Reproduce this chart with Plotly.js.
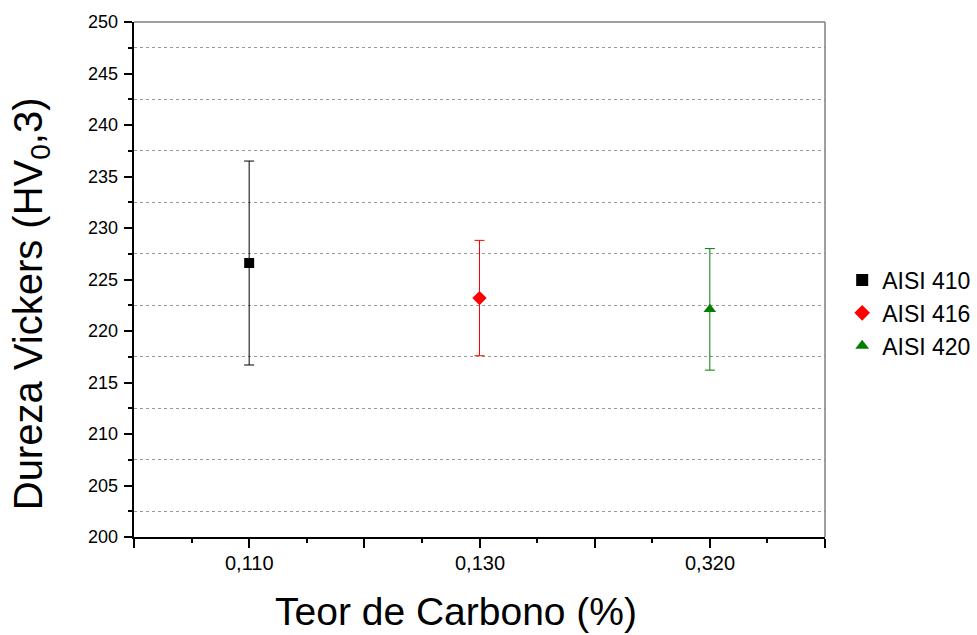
<!DOCTYPE html>
<html>
<head>
<meta charset="utf-8">
<script src="https://cdn.plot.ly/plotly-3.0.1.min.js"></script>
<style>html,body{margin:0;padding:0;background:#fff;}#chart{width:977px;height:635px;}</style>
</head>
<body>
<div id="chart"></div>
<script>
var categories = ['0,110', '0,130', '0,320'];
var seriesNames = ['AISI 410', 'AISI 416', 'AISI 420'];
var hardness = [226.6, 223.2, 222.1];
var errors = [9.9, 5.6, 5.9];
var xPositions = [1, 3, 5];
var majorTickVals = [0, 1, 2, 3, 4, 5, 6];
var minorXTickVals = [0.5, 1.5, 2.5, 3.5, 4.5, 5.5];
var yTickVals = [200, 205, 210, 215, 220, 225, 230, 235, 240, 245, 250];
var minorYTickVals = [202.5, 207.5, 212.5, 217.5, 222.5, 227.5, 232.5, 237.5, 242.5, 247.5];
var xTitle = 'Teor de Carbono (%)';
var yTitle = 'Dureza Vickers (HV<sub>0</sub>,3)';

var colors = ['#000000', '#ff0000', '#008000'];
var symbols = ['square', 'diamond', 'triangle-up'];
var sizes = [10, 11, 11];

var traces = [{
  type: 'scatter', mode: 'markers', x: [null], y: [null], xaxis: 'x2', yaxis: 'y2',
  showlegend: false, hoverinfo: 'skip'
}].concat(seriesNames.map(function (name, i) {
  return {
    type: 'scatter', mode: 'markers', name: name,
    x: [xPositions[i]], y: [hardness[i]],
    marker: {color: colors[i], symbol: symbols[i], size: sizes[i]},
    error_y: {type: 'data', array: [errors[i]], visible: true, color: colors[i], thickness: 1, width: 5}
  };
}));

var FONT = 'Arial, "Liberation Sans", sans-serif';

var annotations = [
  {text: xTitle, xref: 'paper', yref: 'paper', x: 0.466, y: -0.1456, xanchor: 'center', yanchor: 'middle',
   showarrow: false, font: {family: FONT, size: 39, color: '#000'}},
  {text: yTitle, xref: 'paper', yref: 'paper', x: -0.149, y: 0.452, xanchor: 'center', yanchor: 'middle',
   textangle: -90, showarrow: false, font: {family: FONT, size: 40, color: '#000'}}
];
// tick labels, placed through the axes' own scales
categories.forEach(function (c, i) {
  annotations.push({text: c, xref: 'x', yref: 'paper', x: xPositions[i], y: -0.0505,
    xanchor: 'center', yanchor: 'middle', showarrow: false, font: {family: FONT, size: 20, color: '#000'}});
});
yTickVals.forEach(function (v) {
  annotations.push({text: String(v), xref: 'paper', yref: 'y', x: -0.0203, y: v,
    xanchor: 'right', yanchor: 'middle', showarrow: false, font: {family: FONT, size: 18, color: '#000'}});
});

var layout = {
  width: 977, height: 635,
  margin: {l: 134, r: 152, t: 22, b: 98},
  paper_bgcolor: '#fff', plot_bgcolor: '#fff',
  font: {family: FONT, color: '#000', size: 18},
  showlegend: true,
  legend: {xref: 'container', x: 0.862, y: 0.435, xanchor: 'left', yanchor: 'middle', font: {family: FONT, size: 23, color: '#000'}, tracegroupgap: 0, itemsizing: 'constant', itemwidth: 30},
  xaxis: {
    range: [0, 6], tickmode: 'array', tickvals: majorTickVals, showticklabels: false,
    ticks: 'outside', ticklen: 9, tickwidth: 2, tickcolor: '#000',
    showline: true, linecolor: '#000', linewidth: 2, showgrid: false, zeroline: false
  },
  yaxis: {
    range: [200, 250], tickmode: 'array', tickvals: yTickVals, showticklabels: false,
    ticks: 'outside', ticklen: 8, tickwidth: 2, tickcolor: '#000',
    showline: true, linecolor: '#000', linewidth: 2, showgrid: false, zeroline: false
  },
  xaxis2: {
    overlaying: 'x', side: 'bottom', range: [0, 6], tickmode: 'array', tickvals: minorXTickVals,
    ticks: 'outside', ticklen: 5, tickwidth: 2, tickcolor: '#000',
    showticklabels: false, showgrid: false, zeroline: false, showline: false
  },
  yaxis2: {
    overlaying: 'y', side: 'left', range: [200, 250], tickmode: 'array', tickvals: minorYTickVals,
    ticks: 'outside', ticklen: 5, tickwidth: 2, tickcolor: '#000',
    showticklabels: false, showgrid: true, gridcolor: '#999', griddash: 'dot', gridwidth: 1,
    zeroline: false, showline: false
  },
  annotations: annotations,
  shapes: [
    {type: 'line', xref: 'paper', yref: 'paper', x0: 0, x1: 1, y0: 1, y1: 1, line: {color: '#808080', width: 1.5}},
    {type: 'line', xref: 'paper', yref: 'paper', x0: 1, x1: 1, y0: 0, y1: 1, line: {color: '#808080', width: 1.5}}
  ]
};

Plotly.newPlot('chart', traces, layout, {displayModeBar: false, staticPlot: true});
</script>
</body>
</html>
